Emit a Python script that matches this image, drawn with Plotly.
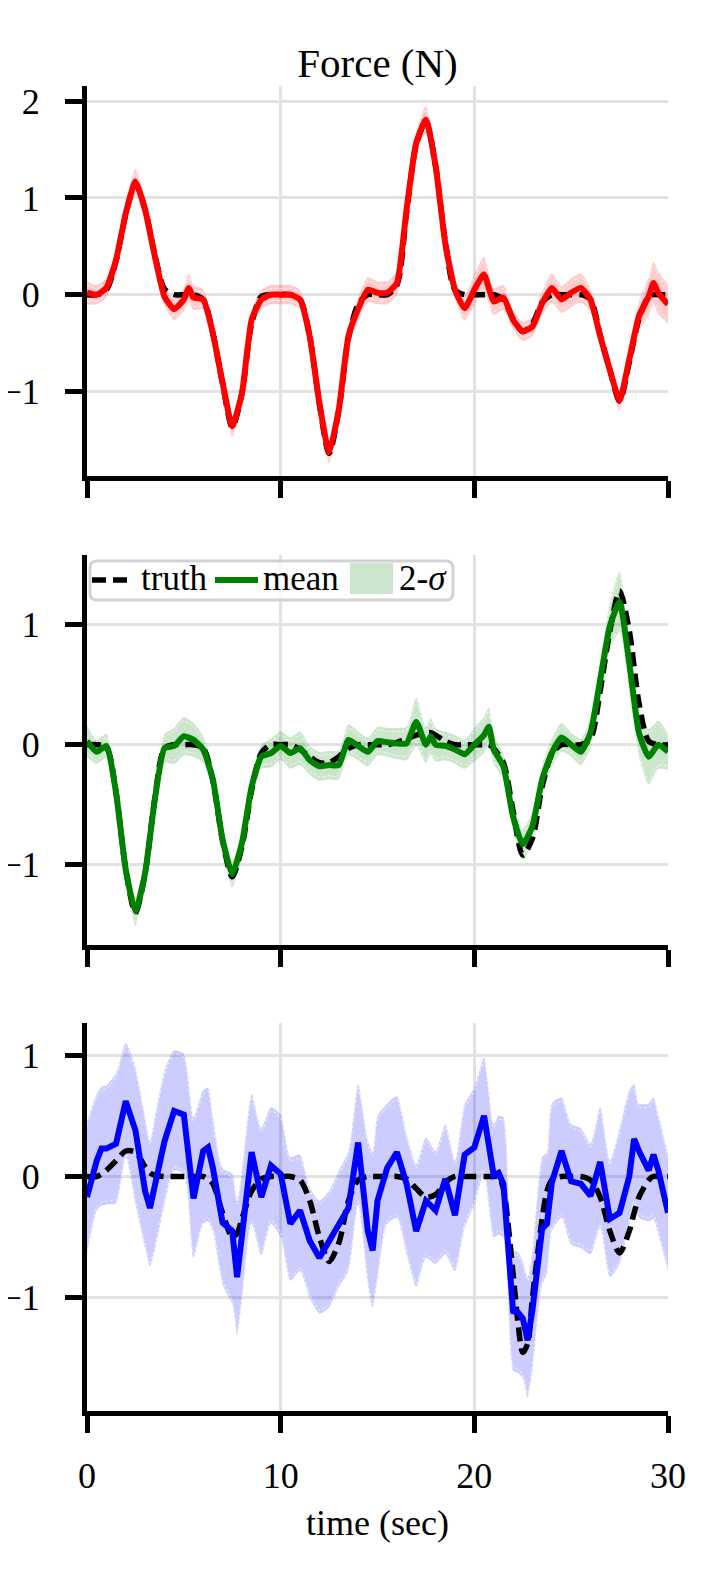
import plotly.graph_objects as go

# ---------------- data ----------------
t_top = [0, 0.5, 1, 1.5, 2, 2.5, 3, 3.5, 4, 4.5, 5, 5.25, 5.5, 6, 6.5, 7, 7.5, 8, 8.5, 9, 9.5,
         10, 10.5, 11, 11.5, 12, 12.5, 13, 13.5, 14, 14.5, 15, 15.5, 16, 16.5, 17, 17.5, 18,
         18.5, 19, 19.5, 20, 20.5, 21, 21.5, 22, 22.5, 23, 23.5, 24, 24.5, 25, 25.5, 26, 26.5,
         27, 27.5, 28, 28.5, 29, 29.25, 29.5, 30]
truth_top = [0, 0, 0.05, 0.35, 0.83, 1.15, 0.88, 0.42, 0.06, 0.0, 0, 0, 0, -0.05, -0.40, -0.92,
             -1.37, -1.02, -0.30, -0.02, 0, 0, 0, -0.05, -0.43, -1.13, -1.64, -1.20, -0.45, -0.10,
             0, 0, 0, 0.10, 0.85, 1.55, 1.79, 1.33, 0.55, 0.05, 0, 0, 0, 0, -0.05, -0.25, -0.38,
             -0.30, -0.08, 0, 0, 0, 0, -0.05, -0.42, -0.78, -1.10, -0.70, -0.25, -0.02, 0, 0, 0]
mean_top = [0.02, 0.00, 0.07, 0.36, 0.84, 1.17, 0.88, 0.40, -0.02, -0.15, -0.05, 0.07, -0.03,
            -0.05, -0.40, -0.91, -1.36, -1.02, -0.26, -0.05, 0.0, 0.0, 0.0, -0.05, -0.43, -1.12,
            -1.63, -1.19, -0.43, -0.15, 0.05, 0.02, 0.02, 0.12, 0.88, 1.57, 1.81, 1.33, 0.53,
            0.05, -0.14, 0.05, 0.21, -0.07, -0.03, -0.26, -0.38, -0.33, -0.09, 0.07, -0.05, 0.02,
            0.07, -0.05, -0.43, -0.78, -1.09, -0.67, -0.22, -0.02, 0.12, 0.02, -0.10]
band_top = [0.12, 0.10, 0.10, 0.10, 0.11, 0.13, 0.11, 0.10, 0.10, 0.11, 0.12, 0.15, 0.13, 0.10,
            0.10, 0.10, 0.11, 0.10, 0.10, 0.10, 0.10, 0.10, 0.10, 0.10, 0.10, 0.10, 0.11, 0.10,
            0.10, 0.12, 0.13, 0.12, 0.12, 0.12, 0.11, 0.12, 0.14, 0.12, 0.10, 0.10, 0.13, 0.16,
            0.18, 0.14, 0.13, 0.10, 0.10, 0.10, 0.12, 0.15, 0.14, 0.15, 0.15, 0.12, 0.10, 0.10,
            0.11, 0.12, 0.15, 0.20, 0.22, 0.22, 0.20]

t_mid = [0, 0.5, 1, 1.5, 2, 2.5, 3, 3.5, 4, 4.5, 5, 5.5, 6, 6.5, 7, 7.5, 8, 8.5, 9, 9.5, 10,
         10.5, 11, 11.5, 12, 12.5, 13, 13.5, 14, 14.5, 15, 15.5, 16, 16.5, 17, 17.5, 17.75, 18,
         18.5, 19, 19.5, 20, 20.5, 20.75, 21, 21.5, 22, 22.5, 23, 23.5, 24, 24.5, 25, 25.5, 26,
         26.5, 27, 27.5, 28, 28.5, 29, 29.5, 30]
truth_mid = [0, 0, -0.02, -0.40, -1.04, -1.40, -1.07, -0.45, -0.03, 0.0, 0.0, 0.0, -0.03, -0.30,
             -0.80, -1.10, -0.85, -0.38, -0.07, 0.0, 0.0, 0.0, -0.04, -0.10, -0.15, -0.15, -0.10,
             -0.03, 0.0, 0, 0, 0, 0.02, 0.05, 0.08, 0.10, 0.10, 0.08, 0.03, 0.0, 0, 0, 0, 0,
             -0.03, -0.15, -0.55, -0.92, -0.78, -0.35, -0.08, 0, 0, 0, 0.05, 0.45, 0.95, 1.28,
             0.95, 0.35, 0.03, 0.0, 0.0]
mean_mid = [0.03, -0.06, -0.01, -0.40, -1.04, -1.39, -1.07, -0.46, -0.03, -0.01, 0.07, 0.04,
            -0.04, -0.29, -0.79, -1.08, -0.82, -0.35, -0.10, -0.07, -0.01, -0.07, -0.03, -0.13,
            -0.18, -0.17, -0.17, 0.04, -0.01, -0.06, 0.03, 0.02, 0.01, 0.01, 0.19, 0.0, 0.07,
            0.0, -0.01, -0.04, -0.08, 0.0, 0.08, 0.15, -0.04, -0.18, -0.60, -0.83, -0.68, -0.29,
            -0.07, 0.06, 0.0, -0.06, 0.10, 0.54, 0.99, 1.19, 0.68, 0.10, -0.10, 0.0, -0.06]
band_mid = [0.13, 0.10, 0.10, 0.10, 0.10, 0.12, 0.10, 0.10, 0.12, 0.15, 0.16, 0.14, 0.11, 0.10,
            0.10, 0.11, 0.10, 0.10, 0.10, 0.12, 0.12, 0.13, 0.14, 0.12, 0.12, 0.12, 0.12, 0.13,
            0.12, 0.12, 0.12, 0.12, 0.13, 0.14, 0.20, 0.15, 0.15, 0.14, 0.12, 0.12, 0.12, 0.14,
            0.15, 0.16, 0.12, 0.10, 0.12, 0.13, 0.12, 0.12, 0.12, 0.12, 0.10, 0.11, 0.13, 0.15,
            0.20, 0.25, 0.22, 0.20, 0.23, 0.20, 0.15]

t_bot = [0, 0.5, 0.75, 1, 1.5, 2, 2.5, 3, 3.25, 3.5, 4, 4.5, 5, 5.5, 6, 6.25, 6.5, 7, 7.5, 7.75,
         8, 8.5, 9, 9.5, 10, 10.5, 11, 11.5, 12, 12.5, 13, 13.5, 14, 14.5, 14.75, 15, 15.5, 16,
         16.5, 17, 17.5, 18, 18.5, 19, 19.5, 20, 20.5, 21, 21.25, 21.5, 22, 22.25, 22.5, 22.75,
         23, 23.5, 23.75, 24, 24.5, 25, 25.5, 26, 26.5, 27, 27.5, 28, 28.25, 28.5, 29, 29.25,
         29.5, 30]
truth_bot = [0, 0, 0.02, 0.05, 0.13, 0.21, 0.20, 0.08, 0.03, 0.01, 0, 0, 0, 0, 0, -0.02, -0.06,
             -0.30, -0.50, -0.47, -0.35, -0.12, -0.02, 0, 0, 0, -0.03, -0.20, -0.50, -0.70, -0.55,
             -0.20, -0.03, 0, 0, 0, 0, 0, -0.02, -0.10, -0.17, -0.15, -0.05, 0, 0, 0, 0, 0, 0,
             -0.10, -0.80, -1.20, -1.45, -1.38, -1.00, -0.35, -0.12, -0.03, 0, 0, 0, -0.03,
             -0.17, -0.45, -0.63, -0.45, -0.30, -0.17, -0.03, 0, 0, 0]
mean_bot = [-0.17, 0.13, 0.23, 0.23, 0.27, 0.62, 0.38, -0.12, -0.26, -0.06, 0.29, 0.54, 0.51,
            -0.18, 0.21, 0.24, 0.07, -0.38, -0.45, -0.83, -0.48, 0.20, -0.17, 0.09, 0.02, -0.39,
            -0.28, -0.53, -0.67, -0.53, -0.41, -0.26, 0.28, -0.45, -0.61, -0.20, 0.07, 0.20,
            -0.06, -0.45, -0.20, -0.28, -0.02, -0.32, 0.18, 0.24, 0.50, 0.01, 0.03, -0.06, -1.11,
            -1.12, -1.17, -1.35, -1.10, -0.43, -0.39, -0.05, 0.21, -0.04, -0.06, -0.16, 0.12,
            -0.35, -0.30, 0.00, 0.31, 0.21, 0.05, 0.18, 0.05, -0.30]
upper_bot = [0.45, 0.68, 0.74, 0.75, 0.85, 1.10, 0.90, 0.49, 0.29, 0.49, 0.87, 1.04, 1.01, 0.49,
             0.71, 0.73, 0.49, 0.07, 0.02, -0.20, 0.05, 0.68, 0.40, 0.57, 0.51, 0.16, 0.18,
             -0.09, -0.20, -0.12, 0.05, 0.21, 0.76, 0.30, 0.20, 0.50, 0.60, 0.66, 0.35, 0.10,
             0.32, 0.21, 0.43, 0.13, 0.60, 0.73, 0.98, 0.43, 0.50, 0.49, -0.61, -0.62, -0.70,
             -0.83, -0.61, 0.16, 0.20, 0.60, 0.65, 0.43, 0.40, 0.27, 0.57, 0.13, 0.40, 0.71,
             0.76, 0.60, 0.60, 0.65, 0.51, 0.18]
lower_bot = [-0.64, -0.28, -0.24, -0.23, -0.22, 0.16, -0.23, -0.59, -0.74, -0.61, -0.23, 0.05,
             0.02, -0.67, -0.39, -0.37, -0.45, -0.89, -1.05, -1.31, -1.02, -0.39, -0.65, -0.39,
             -0.50, -0.86, -0.78, -1.00, -1.13, -1.08, -0.91, -0.78, -0.23, -0.89, -1.08, -0.85,
             -0.39, -0.34, -0.64, -0.91, -0.67, -0.72, -0.64, -0.78, -0.42, -0.23, 0.02, -0.50,
             -0.48, -0.50, -1.60, -1.62, -1.66, -1.82, -1.60, -0.89, -0.80, -0.45, -0.34, -0.56,
             -0.59, -0.64, -0.42, -0.83, -0.72, -0.39, -0.23, -0.34, -0.37, -0.35, -0.48, -0.78]

x_ticks = [0, 10, 20, 30]
y_ticks_top = [-1, 0, 1, 2]
y_ticks_other = [-1, 0, 1]
legend_labels = ["truth", "mean", "2-<i>σ</i>"]

# ---------------- layout geometry ----------------
FONT = "Liberation Serif"
L, R, T, B = 79, 58, 78, 176
W = 718 - L - R
H = 1579 - T - B
def xp(px):
    return (px - L) / W
def yp(py):
    return (1579 - B - py) / H

y_ranges = [[-1.870, 2.158], [-1.665, 1.583], [-1.933, 1.265]]
y_domains = [[yp(467.5), 1.0], [yp(936.5), yp(546.7)], [0.0, yp(1015)]]

fig = go.Figure()

panels = [
    dict(t=t_top, truth=truth_top,
         lo=[m - b for m, b in zip(mean_top, band_top)],
         hi=[m + b for m, b in zip(mean_top, band_top)],
         mean=mean_top, color="#ff0000", fill="rgba(255,0,0,0.2)",
         xa="x", ya="y", mshape="spline"),
    dict(t=t_mid, truth=truth_mid,
         lo=[m - b for m, b in zip(mean_mid, band_mid)],
         hi=[m + b for m, b in zip(mean_mid, band_mid)],
         mean=mean_mid, color="#008000", fill="rgba(0,128,0,0.2)",
         xa="x2", ya="y2", mshape="spline"),
    dict(t=t_bot, truth=truth_bot, lo=lower_bot, hi=upper_bot,
         mean=mean_bot, color="#0000ff", fill="rgba(0,0,255,0.2)",
         xa="x3", ya="y3", mshape="linear"),
]

for i, p in enumerate(panels):
    # thin white seam a few pixels inside the band edge (style offset in pixels)
    rng = y_ranges[i]
    dom = y_domains[i]
    units_per_px = (rng[1] - rng[0]) / ((dom[1] - dom[0]) * H)
    off = 3.5 * units_per_px

    fig.add_trace(go.Scatter(x=p["t"], y=p["lo"], mode="lines",
                             line=dict(width=0, shape="spline", smoothing=0.6),
                             showlegend=False, hoverinfo="skip",
                             xaxis=p["xa"], yaxis=p["ya"]))
    fig.add_trace(go.Scatter(x=p["t"], y=p["hi"], mode="lines", fill="tonexty",
                             fillcolor=p["fill"],
                             line=dict(width=0, shape="spline", smoothing=0.6),
                             name=legend_labels[2], showlegend=False,
                             xaxis=p["xa"], yaxis=p["ya"]))
    for edge, sgn in ((p["lo"], 1), (p["hi"], -1)):
        fig.add_trace(go.Scatter(x=p["t"], y=[v + sgn * off for v in edge], mode="lines",
                                 line=dict(color="rgba(255,255,255,0.75)", width=1,
                                           dash="3px,2px", shape="spline", smoothing=0.6),
                                 showlegend=False, hoverinfo="skip",
                                 xaxis=p["xa"], yaxis=p["ya"]))
    fig.add_trace(go.Scatter(x=p["t"], y=p["truth"], mode="lines",
                             line=dict(color="black", width=5.5, dash="14px,7px",
                                       shape="spline", smoothing=0.8),
                             name=legend_labels[0], showlegend=False,
                             xaxis=p["xa"], yaxis=p["ya"]))
    fig.add_trace(go.Scatter(x=p["t"], y=p["mean"], mode="lines",
                             line=dict(color=p["color"], width=6, shape=p["mshape"],
                                       smoothing=0.5),
                             name=legend_labels[1], showlegend=False,
                             xaxis=p["xa"], yaxis=p["ya"]))

axis_common = dict(showgrid=True, gridcolor="#e2e2e2", gridwidth=3, zeroline=False,
                   showline=True, linecolor="black", linewidth=5, mirror=False,
                   ticks="outside", ticklen=17, tickwidth=5, tickcolor="black",
                   automargin=False,
                   tickfont=dict(family=FONT, size=36, color="black"))
x_common = dict(axis_common, range=[0, 30], tickvals=x_ticks)

# ---- legend drawn in the middle panel (paper coordinates) ----
bx0, bx1, by0, by1, rad = xp(82), xp(445), yp(592), yp(553), 7
rx, ry = rad / W, rad / H
box_path = (f"M {bx0+rx},{by1} L {bx1-rx},{by1} Q {bx1},{by1} {bx1},{by1-ry} "
            f"L {bx1},{by0+ry} Q {bx1},{by0} {bx1-rx},{by0} L {bx0+rx},{by0} "
            f"Q {bx0},{by0} {bx0},{by0+ry} L {bx0},{by1-ry} Q {bx0},{by1} {bx0+rx},{by1} Z")
ymid = yp(572)
shapes = [
    dict(type="path", path=box_path, xref="paper", yref="paper",
         fillcolor="rgba(255,255,255,0.8)", line=dict(color="#d3d3d3", width=3)),
    dict(type="line", xref="paper", yref="paper", x0=xp(84), x1=xp(125), y0=ymid, y1=ymid,
         line=dict(color="black", width=5.5, dash="14px,7px")),
    dict(type="line", xref="paper", yref="paper", x0=xp(207), x1=xp(250), y0=ymid, y1=ymid,
         line=dict(color="#008000", width=6)),
    dict(type="rect", xref="paper", yref="paper", x0=xp(342), x1=xp(385), y0=yp(586),
         y1=yp(555), fillcolor="rgba(0,128,0,0.2)", line=dict(width=0)),
]
ytxt = yp(570)
annotations = [
    dict(text=legend_labels[0], x=xp(131), y=ytxt, xref="paper", yref="paper",
         xanchor="left", yanchor="middle", showarrow=False,
         font=dict(family=FONT, size=35, color="black")),
    dict(text=legend_labels[1], x=xp(253), y=ytxt, xref="paper", yref="paper",
         xanchor="left", yanchor="middle", showarrow=False,
         font=dict(family=FONT, size=35, color="black")),
    dict(text=legend_labels[2], x=xp(389), y=ytxt, xref="paper", yref="paper",
         xanchor="left", yanchor="middle", showarrow=False,
         font=dict(family=FONT, size=35, color="black")),
    dict(text="time (sec)", x=0.5, xref="paper", xanchor="center",
         y=yp(1515), yref="paper", yanchor="middle", showarrow=False,
         font=dict(family=FONT, size=36, color="black")),
]

fig.update_layout(
    width=718, height=1579,
    margin=dict(l=L, r=R, t=T, b=B),
    paper_bgcolor="white", plot_bgcolor="white",
    showlegend=False,
    font=dict(family=FONT, size=36, color="black"),
    title=dict(text="Force (N)", x=0.5, xref="paper", xanchor="center",
               y=1 - 55 / 1579, yref="container", yanchor="middle",
               font=dict(family=FONT, size=41, color="black")),
    xaxis=dict(x_common, domain=[0, 1], anchor="y", showticklabels=False),
    xaxis2=dict(x_common, domain=[0, 1], anchor="y2", showticklabels=False),
    xaxis3=dict(x_common, domain=[0, 1], anchor="y3", showticklabels=True,
                ticklabelstandoff=12),
    yaxis=dict(axis_common, domain=y_domains[0], anchor="x",
               range=y_ranges[0], tickvals=y_ticks_top, ticklabelstandoff=18),
    yaxis2=dict(axis_common, domain=y_domains[1], anchor="x2",
                range=y_ranges[1], tickvals=y_ticks_other, ticklabelstandoff=18),
    yaxis3=dict(axis_common, domain=y_domains[2], anchor="x3",
                range=y_ranges[2], tickvals=y_ticks_other, ticklabelstandoff=18),
    shapes=shapes,
    annotations=annotations,
)

fig.write_html("out.html")
